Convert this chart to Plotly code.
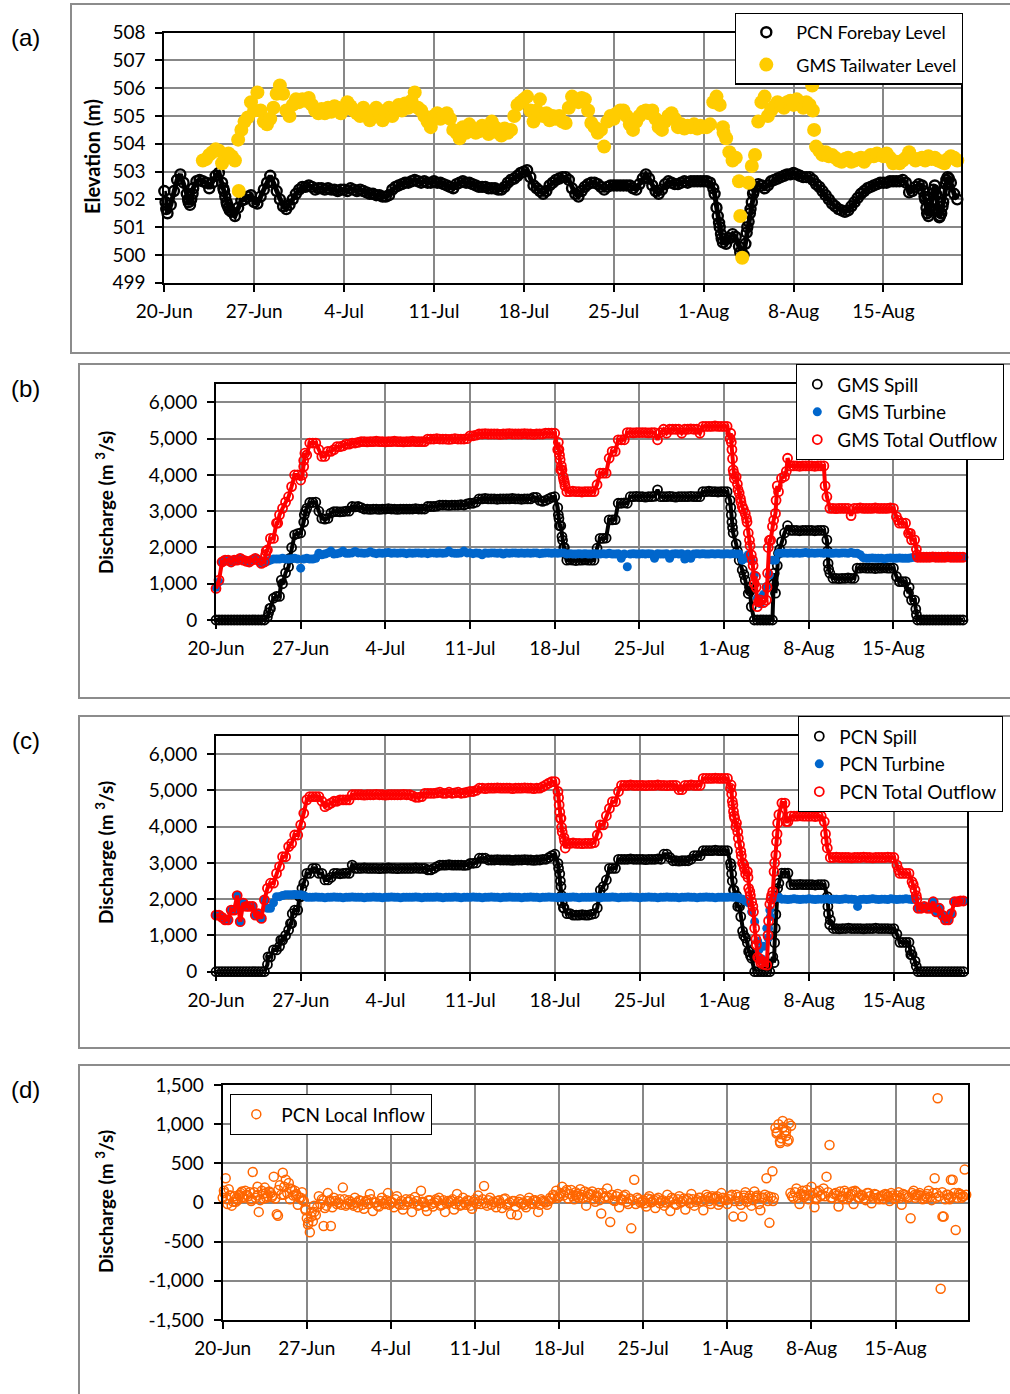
import pandas as pd
import plotly.graph_objects as go

# ---------------- DATA ----------------
START = pd.Timestamp("2013-06-20")
STEP_HOURS = 6          # main sampling interval of the value lists below
SPAN_DAYS = 62

# (a) PCN forebay level (m), one row per day, 4 readings per day from 20-Jun
PCN_FOREBAY = [
    502.3, 501.5, 501.8, 502.3,   502.7, 502.9, 502.6, 502.2,   501.8, 502.4, 502.65, 502.7,
    502.65, 502.6, 502.4, 502.6,  502.85, 502.95, 502.6, 502.1, 501.7, 501.55, 501.4, 501.7,
    501.95, 502.0, 502.1, 502.15, 501.9, 501.85, 502.1, 502.35, 502.6, 502.85, 502.6, 502.3,
    502.0, 501.75, 501.65, 501.8, 502.0, 502.2, 502.35, 502.45, 502.45, 502.5, 502.45, 502.35,
    502.4, 502.4, 502.35, 502.4,  502.35, 502.35, 502.3, 502.35, 502.35, 502.3, 502.4, 502.35,
    502.3, 502.35, 502.3, 502.25, 502.2, 502.2, 502.15, 502.15, 502.1, 502.1, 502.15, 502.35,
    502.45, 502.5, 502.55, 502.6, 502.6, 502.65, 502.7, 502.65, 502.6, 502.65, 502.6, 502.6,
    502.65, 502.6, 502.6, 502.55, 502.5, 502.45, 502.4, 502.55, 502.6, 502.65, 502.6, 502.6,
    502.55, 502.5, 502.45, 502.45, 502.45, 502.4, 502.4, 502.4, 502.35, 502.35, 502.45, 502.6,
    502.7, 502.75, 502.85, 502.95, 503.0, 503.05, 502.8, 502.5, 502.4, 502.3, 502.2, 502.3,
    502.5, 502.6, 502.7, 502.75,  502.8, 502.8, 502.7, 502.4,   502.2, 502.1, 502.3, 502.45,
    502.55, 502.6, 502.6, 502.55, 502.45, 502.35, 502.45, 502.5, 502.5, 502.5, 502.5, 502.5,
    502.5, 502.5, 502.4, 502.35,  502.55, 502.75, 502.9, 502.75, 502.5, 502.3, 502.2, 502.35,
    502.55, 502.65, 502.6, 502.55, 502.55, 502.6, 502.65, 502.6, 502.65, 502.65, 502.65, 502.65,
    502.65, 502.65, 502.6, 502.4, 501.7, 501.0, 500.45, 500.4,  500.6, 500.75, 500.65, 500.3,
    499.95, 500.4, 501.2, 501.9,  502.45, 502.55, 502.5, 502.4, 502.5, 502.65, 502.7, 502.75,
    502.8, 502.85, 502.9, 502.9,  502.95, 502.9, 502.85, 502.8, 502.8, 502.8, 502.7, 502.55,
    502.45, 502.3, 502.15, 502.0, 501.85, 501.75, 501.65, 501.6, 501.55, 501.6, 501.75, 501.9,
    502.05, 502.2, 502.3, 502.4,  502.45, 502.5, 502.55, 502.6,  502.6, 502.6, 502.65, 502.65,
    502.65, 502.65, 502.7, 502.6, 502.25, 502.3, 502.45, 502.55, 502.5, 502.0, 501.4, 501.9,
    502.5, 501.6, 501.5, 502.3,   502.8, 502.6, 502.2, 502.0,
]
PCN_FOREBAY_EXTRA = [
    (0.1, 501.9), (0.15, 501.65), (1.85, 502.0), (1.9, 501.9), (2.1, 502.0), (2.2, 502.2),
    (4.6, 502.4), (4.65, 502.3), (4.85, 501.9), (4.9, 501.8), (5.1, 501.6),
    (42.85, 502.2), (43.1, 501.4), (43.2, 501.15), (43.35, 500.75), (43.4, 500.6),
    (44.85, 500.1), (45.1, 500.0), (45.35, 500.8), (45.4, 501.0), (45.6, 501.5),
    (45.65, 501.65), (45.85, 502.2), (45.9, 502.3),
    (59.1, 502.3), (59.2, 502.1), (59.35, 501.7), (59.4, 501.5), (59.6, 501.6), (59.65, 501.7),
    (59.85, 502.2), (59.9, 502.35), (60.1, 502.2), (60.2, 501.9), (60.35, 501.35), (60.4, 501.4),
    (60.6, 501.75), (60.65, 501.9), (60.85, 502.55), (60.9, 502.7), (61.1, 502.75),
]

# (a) GMS tailwater level (m), 4 readings per day starting 23-Jun
GMS_TAILWATER_START_DAY = 3.0
GMS_TAILWATER = [
    503.4, 503.45, 503.6, 503.7,  503.8, 503.75, 503.3, 503.5,  503.65, 503.55, 503.4, 504.15,
    504.5, 504.8, 504.95, 505.5,  505.2, 505.85, 505.2, 504.8,  504.7, 504.9, 505.3, 505.8,
    506.1, 505.8, 505.2, 505.0,   505.4, 505.6, 505.5, 505.6,   505.55, 505.65, 505.4, 505.2,
    505.1, 505.25, 505.1, 505.3,  505.15, 505.35, 505.3, 505.1, 505.25, 505.5, 505.35, 505.2,
    505.1, 505.0, 505.3, 505.1,   504.85, 505.0, 505.3, 505.1,  504.85, 505.2, 505.3, 505.0,
    505.2, 505.4, 505.2, 505.45,  505.3, 505.55, 505.85, 505.3, 505.2, 505.0, 504.8, 504.6,
    505.0, 505.1, 504.9, 505.0,   505.1, 504.9, 504.5, 504.4,   504.2, 504.6, 504.4, 504.7,
    504.5, 504.4, 504.45, 504.65, 504.5, 504.35, 504.8, 504.6,  504.4, 504.3, 504.55, 504.4,
    504.5, 505.0, 505.4, 505.5,   505.6, 505.7, 505.2, 504.8,   505.2, 505.6, 505.0, 505.1,
    504.85, 505.0, 504.9, 505.0,  504.8, 504.75, 505.3, 505.7,  505.6, 505.5, 505.65, 505.6,
    505.2, 504.75, 504.6, 504.4,  504.5, 503.9, 504.8, 505.0,   504.9, 505.1, 505.2, 505.2,
    505.0, 504.7, 504.5, 504.8,   505.0, 505.15, 505.2, 505.1,  505.2, 504.9, 504.6, 504.5,
    504.8, 505.0, 505.1, 504.9,   504.6, 504.7, 504.55, 504.65, 504.6, 504.7, 504.55, 504.65,
    504.6, 504.6, 504.7, 505.5,   505.7, 505.4, 504.6, 504.2,   503.7, 503.4, 503.5, 502.65,
    499.9, None, 502.6, 503.2,    503.6, 504.8, 505.5, 505.7,   505.0, 505.2, 505.35, 505.5,
    505.4, 505.3, 505.5, 505.55,  505.4, 505.6, 505.5, 505.3,   505.5, 505.4, 505.2, 503.9,
    503.75, 503.6, 503.7, 503.55, 503.6, 503.5, 503.4, 503.35,  503.45, 503.5, 503.35, 503.4,
    503.45, 503.5, 503.35, 503.5, 503.6, 503.55, 503.65, 503.6, 503.55, 503.65, 503.5, 503.3,
    503.35, 503.3, 503.4, 503.5,  503.7, 503.5, 503.4, 503.45,  503.5, 503.4, 503.55, 503.45,
    503.5, 503.4, 503.35, 503.3,  503.45, 503.55, 503.5, 503.4,
]
GMS_TAILWATER_EXTRA = [(5.8, 502.3), (44.85, 501.4), (50.45, 506.1), (50.6, 504.5), (43.55, 504.4)]

# (b) GMS discharges (m3/s), 4 readings per day from 20-Jun
GMS_SPILL = [
    0, 0, 0, 0,  0, 0, 0, 0,  0, 0, 0, 0,  0, 0, 0, 0,
    0, 80, 320, 600,  650, 650, 1000, 1300,  1470, 2000, 2350, 2380,  2400, 2700, 3080, 3240,
    3240, 3250, 3000, 2800,  2780, 2800, 2950, 2990,  2990, 2980, 2990, 3000,  3000, 3130, 3120, 3130,
    3100, 3060, 3060, 3050,  3060, 3060, 3050, 3060,  3060, 3070, 3060, 3060,  3050, 3060, 3060, 3060,
    3060, 3060, 3070, 3060,  3060, 3060, 3130, 3130,  3130, 3140, 3170, 3170,  3170, 3160, 3170, 3170,
    3170, 3180, 3170, 3200,  3220, 3220, 3250, 3340,  3340, 3350, 3340, 3340,  3340, 3330, 3340, 3340,
    3340, 3340, 3350, 3340,  3340, 3330, 3340, 3340,  3340, 3380, 3380, 3300,  3270, 3300, 3340, 3380,
    3400, 3100, 2600, 2000,  1650, 1660, 1650, 1640,  1650, 1650, 1660, 1650,  1650, 1650, 1980, 2250,
    2250, 2260, 2760, 2760,  2770, 3220, 3220, 3230,  3220, 3400, 3400, 3410,  3400, 3400, 3390, 3400,
    3400, 3410, 3590, 3400,  3400, 3400, 3410, 3400,  3390, 3400, 3400, 3400,  3400, 3410, 3400, 3400,
    3400, 3540, 3540, 3550,  3540, 3540, 3530, 3540,  3540, 3540, 3300, 2400,  2100, 1650, 1380, 1100,
    730, 370, 0, 0,  0, 0, 0, 0,  0, 740, 1840, 2160,  2400, 2600, 2470, 2470,
    2470, 2460, 2470, 2470,  2470, 2470, 2460, 2470,  2470, 2470, 2210, 1290,  1150, 1150, 1140, 1150,
    1150, 1160, 1150, 1150,  1430, 1430, 1440, 1430,  1430, 1430, 1420, 1430,  1430, 1440, 1430, 1430,
    1430, 1200, 1060, 1060,  1060, 740, 550, 550,  0, 0, 0, 0,  0, 0, 0, 0,
    0, 0, 0, 0,  0, 0, 0, 0,
]
GMS_SPILL_EXTRA = [
    (4.35, 200), (4.45, 320), (5.4, 1100), (6.1, 1700), (7.3, 2900), (7.4, 3000),
    (28.3, 2900), (28.35, 2800), (28.4, 2600), (28.6, 2300), (28.65, 2200), (28.8, 2000), (28.85, 1840),
    (42.55, 3100), (42.6, 2900), (42.65, 2700), (42.7, 2550), (43.1, 1900), (43.65, 1250),
    (44.1, 900), (44.15, 800), (46.1, 1000), (46.15, 1290), (46.4, 1500), (46.6, 1950),
    (50.55, 1900), (50.6, 1560), (50.65, 1400), (57.3, 900), (57.85, 300), (57.9, 150),
]
GMS_TURBINE = [
    900, 1050, 1600, 1650,  1650, 1600, 1650, 1650,  1700, 1650, 1620, 1600,  1650, 1700, 1650, 1560,
    1600, 1620, 1650, 1680,  1680, 1680, 1700, 1680,  1680, 1690, 1700, 1680,  1430, 1680, 1700, 1680,
    1680, 1700, 1840, 1800,  1820, 1850, 1900, 1820,  1830, 1850, 1900, 1840,  1840, 1850, 1890, 1850,
    1850, 1840, 1850, 1880,  1850, 1830, 1850, 1840,  1850, 1860, 1840, 1850,  1840, 1850, 1850, 1830,
    1850, 1840, 1850, 1850,  1840, 1850, 1830, 1850,  1850, 1840, 1850, 1840,  1850, 1900, 1850, 1840,
    1840, 1850, 1900, 1850,  1850, 1830, 1850, 1840,  1800, 1850, 1840, 1850,  1850, 1840, 1850, 1820,
    1850, 1840, 1850, 1850,  1840, 1850, 1840, 1850,  1840, 1850, 1850, 1830,  1840, 1850, 1850, 1840,
    1850, 1840, 1850, 1850,  1820, 1830, 1820, 1820,  1830, 1820, 1830, 1820,  1820, 1830, 1820, 1820,
    1830, 1820, 1840, 1820,  1820, 1830, 1700, 1820,  1470, 1820, 1830, 1820,  1820, 1830, 1820, 1830,
    1820, 1700, 1830, 1820,  1820, 1830, 1700, 1820,  1830, 1820, 1830, 1680,  1820, 1700, 1820, 1830,
    1820, 1830, 1820, 1820,  1830, 1820, 1830, 1820,  1820, 1830, 1820, 1830,  1820, 1820, 1650, 1700,
    1800, 1650, 1240, 600,  450, 700, 920, 1240,  1650, 1650, 1840, 1840,  1850, 1840, 1850, 1840,
    1850, 1840, 1850, 1860,  1840, 1850, 1840, 1850,  1850, 1840, 1850, 1840,  1840, 1850, 1840, 1850,
    1850, 1840, 1860, 1840,  1840, 1800, 1720, 1700,  1700, 1710, 1700, 1700,  1700, 1690, 1700, 1710,
    1700, 1700, 1710, 1700,  1700, 1700, 1720, 1730,  1730, 1730, 1730, 1730,  1730, 1730, 1730, 1730,
    1730, 1730, 1730, 1730,  1730, 1730, 1730, 1730,
]
GMS_TOTAL = [
    870, 1100, 1600, 1650,  1650, 1600, 1650, 1650,  1700, 1650, 1620, 1600,  1650, 1700, 1650, 1560,
    1600, 1930, 2250, 2250,  2670, 2900, 3080, 3250,  3400, 3680, 4000, 4000,  3860, 4230, 4550, 4880,
    4880, 4880, 4700, 4510,  4510, 4650, 4650, 4700,  4780, 4780, 4800, 4850,  4850, 4880, 4880, 4900,
    4920, 4920, 4910, 4920,  4920, 4930, 4920, 4920,  4910, 4920, 4920, 4930,  4920, 4920, 4910, 4920,
    4920, 4930, 4920, 4920,  4920, 4920, 4990, 4990,  4990, 5000, 4990, 4990,  4990, 4980, 4990, 5000,
    4990, 4990, 4990, 5000,  5080, 5080, 5100, 5130,  5130, 5140, 5130, 5130,  5130, 5130, 5120, 5130,
    5130, 5140, 5130, 5130,  5130, 5130, 5140, 5130,  5130, 5120, 5130, 5130,  5130, 5150, 5150, 5150,
    5150, 4700, 4140, 3860,  3540, 3540, 3550, 3540,  3540, 3530, 3540, 3540,  3540, 3540, 3730, 4050,
    4050, 4050, 4460, 4650,  4650, 4970, 4970, 4970,  5170, 5170, 5160, 5170,  5170, 5170, 5170, 5160,
    5170, 5170, 4970, 5170,  5260, 5150, 5260, 5260,  5260, 5260, 5150, 5260,  5260, 5270, 5260, 5260,
    5150, 5340, 5340, 5340,  5340, 5350, 5340, 5340,  5340, 5340, 5000, 4140,  3950, 3500, 3130, 2940,
    2400, 1800, 1000, 370,  550, 480, 550, 2200,  2580, 2940, 3540, 3910,  3960, 4460, 4250, 4250,
    4250, 4240, 4250, 4250,  4250, 4250, 4240, 4250,  4250, 4250, 3400, 3080,  3080, 3070, 3080, 3080,
    3080, 3080, 2880, 3080,  3080, 3090, 3080, 3080,  3080, 3080, 3090, 3080,  3080, 3080, 3080, 3090,
    3080, 2850, 2670, 2670,  2670, 2390, 2210, 2210,  1730, 1730, 1730, 1730,  1730, 1740, 1730, 1730,
    1730, 1730, 1740, 1730,  1730, 1730, 1730, 1730,
]
GMS_TOTAL_EXTRA = [
    (4.1, 1800), (4.15, 1900), (5.1, 2670), (7.15, 4000), (7.25, 4400), (7.35, 4600),
    (28.3, 4900), (28.35, 4700), (28.4, 4550), (28.45, 4420), (28.55, 4250), (28.6, 4140),
    (28.7, 3950), (28.8, 3800), (28.85, 3700), (42.55, 5150), (42.6, 4900), (42.65, 4700),
    (42.7, 4450), (42.8, 4050), (42.85, 3900), (43.1, 3750), (43.15, 3600), (43.35, 3350),
    (43.4, 3250), (43.6, 3050), (43.85, 2800), (43.9, 2700), (44.1, 2200), (44.15, 2050),
    (44.35, 1650), (44.4, 1500), (44.6, 1200), (44.65, 900), (44.85, 500), (45.55, 900),
    (45.6, 1290), (45.65, 2000), (45.85, 2200), (46.1, 2750), (46.3, 3300), (46.4, 3700),
    (47.15, 4100), (50.35, 3700), (56.4, 2750), (57.4, 2390), (57.9, 1950), (57.95, 1800),
]

# (c) PCN discharges (m3/s), 4 readings per day from 20-Jun
PCN_SPILL = [
    0, 0, 0, 0,  0, 0, 0, 0,  0, 0, 0, 0,  0, 0, 0, 0,
    0, 200, 410, 600,  600, 700, 870, 1000,  1150, 1330, 1700, 1700,  2070, 2440, 2710, 2710,
    2850, 2850, 2710, 2710,  2530, 2530, 2600, 2710,  2710, 2700, 2710, 2720,  2710, 2940, 2850, 2850,
    2850, 2860, 2850, 2850,  2850, 2850, 2840, 2850,  2850, 2860, 2850, 2850,  2840, 2850, 2850, 2850,
    2850, 2850, 2860, 2850,  2850, 2850, 2810, 2810,  2850, 2900, 2940, 2940,  2940, 2950, 2940, 2940,
    2940, 2940, 2930, 2940,  2990, 2990, 3000, 3130,  3130, 3130, 3080, 3080,  3080, 3090, 3080, 3080,
    3080, 3080, 3070, 3080,  3080, 3080, 3090, 3080,  3080, 3070, 3080, 3080,  3100, 3100, 3150, 3200,
    3240, 2990, 2350, 1760,  1600, 1600, 1560, 1560,  1560, 1570, 1560, 1560,  1580, 1600, 1760, 2250,
    2350, 2530, 2850, 2850,  2850, 3100, 3100, 3100,  3100, 3110, 3100, 3100,  3100, 3100, 3090, 3100,
    3100, 3100, 3110, 3100,  3240, 3240, 3150, 3060,  3060, 3050, 3060, 3060,  3060, 3100, 3200, 3200,
    3200, 3340, 3340, 3340,  3340, 3350, 3340, 3340,  3340, 3340, 2990, 2250,  2100, 1800, 1120, 930,
    560, 370, 0, 0,  0, 0, 0, 0,  410, 1580, 2440, 2720,  2720, 2720, 2400, 2400,
    2400, 2410, 2400, 2400,  2400, 2400, 2390, 2400,  2400, 2400, 2070, 1430,  1190, 1190, 1180, 1190,
    1190, 1200, 1190, 1190,  1190, 1190, 1180, 1190,  1190, 1190, 1200, 1190,  1190, 1190, 1190, 1180,
    1190, 1040, 810, 810,  810, 810, 470, 290,  0, 0, 0, 0,  0, 0, 0, 0,
    0, 0, 0, 0,  0, 0, 0, 0,
]
PCN_SPILL_EXTRA = [
    (4.3, 410), (5.35, 870), (6.15, 1330), (6.3, 1600), (6.9, 2070), (7.1, 2300),
    (28.3, 2850), (28.4, 2700), (28.45, 2500), (28.55, 2100), (28.6, 1900), (28.7, 1760),
    (42.55, 2900), (42.6, 2700), (42.65, 2500), (42.8, 2250), (43.1, 1800), (43.35, 1520),
    (43.6, 1000), (43.9, 800), (44.1, 560), (44.15, 450), (46.1, 250), (46.15, 800), (46.2, 1200),
    (46.35, 2070), (46.4, 2300), (50.55, 1800), (50.6, 1600), (50.7, 1300), (57.35, 600),
    (57.4, 470), (57.85, 150),
]
PCN_TURBINE = [
    1560, 1560, 1500, 1430,  1430, 1700, 1700, 2100,  1380, 1890, 1800, 1800,  1800, 1560, 1600, 1470,
    1980, 1750, 1750, 1900,  2070, 2070, 2100, 2120,  2120, 2120, 2130, 2120,  2120, 2100, 2050, 2050,
    2050, 2060, 2050, 2050,  2040, 2050, 2050, 2060,  2050, 2050, 2040, 2050,  2050, 2060, 2050, 2050,
    2050, 2040, 2050, 2050,  2060, 2050, 2050, 2040,  2050, 2050, 2060, 2050,  2050, 2040, 2050, 2050,
    2050, 2050, 2060, 2050,  2040, 2050, 2050, 2050,  2050, 2060, 2050, 2040,  2050, 2050, 2050, 2060,
    2050, 2040, 2050, 2050,  2050, 2060, 2050, 2050,  2040, 2050, 2050, 2060,  2050, 2050, 2040, 2050,
    2050, 2060, 2050, 2050,  2050, 2040, 2050, 2050,  2060, 2050, 2050, 2040,  2050, 2050, 2060, 2050,
    2050, 2040, 2050, 2050,  2050, 2050, 2060, 2050,  2040, 2050, 2050, 2050,  2050, 2060, 2050, 2040,
    2050, 2050, 2050, 2060,  2050, 2040, 2050, 2050,  2050, 2060, 2050, 2050,  2040, 2050, 2050, 2060,
    2050, 2050, 2040, 2050,  2050, 2060, 2050, 2050,  2050, 2040, 2050, 2050,  2060, 2050, 2050, 2040,
    2050, 2050, 2060, 2050,  2050, 2040, 2050, 2050,  2050, 2050, 2060, 2050,  2050, 2030, 2000, 1950,
    1900, 1650, 1380, 840,  330, 700, 1200, 1700,  2000, 2050, 2050, 2000,  2000, 1990, 2000, 2010,
    2000, 1990, 2000, 2000,  2010, 2000, 1990, 2000,  2000, 2000, 2010, 1990,  2000, 2000, 1990, 2000,
    2010, 2000, 2000, 1990,  1800, 1990, 2000, 1990,  2000, 2010, 2000, 1990,  2000, 2000, 1990, 2010,
    2000, 1990, 2000, 2000,  2010, 2000, 1990, 2000,  1750, 1750, 1800, 1750,  1750, 1930, 1650, 1750,
    1560, 1430, 1430, 1600,  1930, 1930, 1950, 1950,
]
PCN_TURBINE_EXTRA = [(45.6, 930), (45.65, 1200), (45.8, 1520), (44.85, 600), (45.1, 350)]
PCN_TOTAL = [
    1560, 1560, 1500, 1430,  1430, 1700, 1700, 2100,  1380, 1890, 1800, 1800,  1800, 1560, 1600, 1470,
    1980, 2300, 2440, 2440,  2710, 2900, 3170, 3170,  3450, 3540, 3770, 3770,  4050, 4370, 4740, 4830,
    4830, 4830, 4830, 4700,  4550, 4600, 4650, 4700,  4700, 4740, 4740, 4740,  4740, 4880, 4880, 4880,
    4880, 4870, 4880, 4880,  4880, 4890, 4880, 4880,  4870, 4880, 4880, 4880,  4880, 4880, 4890, 4880,
    4880, 4850, 4810, 4810,  4830, 4920, 4920, 4920,  4920, 4930, 4950, 4920,  4920, 4950, 4920, 4930,
    4950, 4920, 4930, 4950,  4970, 4970, 5000, 5060,  5060, 5050, 5060, 5060,  5060, 5070, 5060, 5060,
    5060, 5060, 5050, 5060,  5060, 5060, 5070, 5060,  5060, 5050, 5060, 5060,  5100, 5150, 5200, 5240,
    5240, 4970, 4230, 3700,  3540, 3540, 3550, 3540,  3540, 3530, 3540, 3540,  3540, 3560, 3770, 4050,
    4050, 4300, 4500, 4690,  4690, 4970, 5140, 5140,  5140, 5150, 5140, 5140,  5140, 5140, 5130, 5140,
    5140, 5140, 5150, 5140,  5140, 5130, 5140, 5140,  5140, 5020, 5020, 5140,  5140, 5150, 5140, 5140,
    5140, 5330, 5330, 5330,  5330, 5340, 5330, 5330,  5330, 5330, 5060, 4420,  4100, 3500, 3000, 2700,
    2300, 1930, 1200, 400,  250, 200, 180, 1860,  2210, 3220, 4330, 4650,  4650, 4140, 4290, 4290,
    4290, 4300, 4290, 4290,  4290, 4290, 4280, 4290,  4290, 4140, 3410, 3150,  3150, 3160, 3150, 3150,
    3150, 3150, 3140, 3150,  3150, 3150, 3160, 3150,  3150, 3140, 3150, 3150,  3150, 3150, 3160, 3150,
    3150, 2940, 2710, 2710,  2710, 2710, 2480, 2250,  1750, 1750, 1800, 1750,  1750, 1930, 1650, 1750,
    1560, 1430, 1430, 1600,  1930, 1930, 1950, 1950,
]
PCN_TOTAL_EXTRA = [
    (28.3, 4800), (28.35, 4600), (28.4, 4400), (28.45, 4230), (28.55, 3980), (28.6, 3850),
    (28.8, 3600), (28.85, 3410), (42.55, 5150), (42.6, 4900), (42.65, 4700), (42.7, 4600),
    (42.8, 4300), (42.85, 4230), (42.95, 4000), (43.1, 3860), (43.15, 3680), (43.35, 3320),
    (43.4, 3200), (43.6, 2950), (43.65, 2850), (43.9, 2760), (43.95, 2600), (44.1, 2210),
    (44.15, 2100), (44.35, 1800), (44.4, 1650), (44.6, 900), (44.65, 740), (44.85, 370),
    (45.05, 300), (45.6, 1000), (45.65, 1400), (45.85, 2000), (45.9, 2100), (46.1, 2760),
    (46.15, 3000), (46.3, 3590), (46.35, 3800), (46.4, 4100), (47.1, 4140), (50.35, 3800),
    (50.4, 3600), (56.4, 2800), (57.6, 2400), (57.85, 2100), (57.9, 2000),
]

# (d) PCN local inflow (m3/s), 4 readings per day from 20-Jun (00,06,12,18 h)
PCN_LOCAL_INFLOW = [
    60, 310, 170, -40,  80, 30, 120, 60,  100, 130, 390, 60,  -120, 150, 190, 80,
    120, 330, -150, 220,  380, 290, 250, 170,  150, -30, 60, 20,  -200, -380, -240, -160,
    80, 40, -70, 120,  -300, 60, -20, 40,  190, -40, 30, -20,  60, -60, 20, -80,
    30, 110, -110, 0,  -50, 60, -20, 120,  10, -60, 80, -30,  -90, 40, 10, -120,
    70, -40, 150, 0,  -110, 30, -50, 40,  60, -30, -120, 20,  20, -90, 110, -40,
    60, -30, 20, -80,  40, 90, -20, 210,  -40, 60, 10, -60,  30, -70, 50, -20,
    -150, 20, -160, 40,  0, -60, 60, -20,  30, -120, 40, 10,  -30, 60, 100, 150,
    80, 200, 130, 50,  160, 40, 110, 170,  60, -40, 100, 140,  10, 120, -140, 60,
    180, -250, 30, 80,  -60, 40, 100, -20,  -330, 290, 60, 0,  30, -50, 80, 10,
    -70, 60, 20, -40,  100, -110, 40, -30,  80, 20, -90, 50,  110, -40, 30, 60,
    -100, 100, 20, 80,  60, -30, 120, 40,  -20, 80, -180, 100,  20, -180, 130, 50,
    -40, 140, 90, -100,  60, 310, -260, 400,  950, 1000, 820, 900,  780, 120, 60, 180,
    -20, 150, 90, 40,  200, -60, 130, 80,  180, 330, 735, 60,  120, -50, 70, 150,
    40, 100, -20, 130,  60, 90, 30, 120,  -10, 110, 60, 80,  40, 100, 20, 90,
    50, 130, -30, 100,  60, -200, 150, 90,  120, 40, 80, 150,  30, 310, 1330, -1100,
    -180, 100, 40, 290,  -350, 120, 60, 420,
]
# (d) same series, readings in between (03,09,15,21 h)
PCN_LOCAL_INFLOW_MID = [
    120, 40, 90, 10,  50, 100, 70, 150,  80, 20, 130, 90,  30, 110, 60, 140,
    90, 50, 160, 100,  200, 120, 180, 90,  110, 60, 30, -80,  -250, -180, -120, -60,
    -20, 30, -40, 10,  -60, 20, 0, -30,  40, -20, 10, -40,  0, 30, -30, 10,
    -20, 40, 0, -40,  20, -10, 30, -30,  0, 40, -20, 20,  -30, 10, 40, -10,
    20, -30, 10, -50,  30, -20, 0, 20,  -40, 30, -10, 0,  40, -20, 20, -30,
    0, 30, -40, 10,  -20, 20, 40, -10,  30, -30, 0, 20,  -10, 40, -30, 0,
    20, -50, 10, -20,  -30, 20, -10, 30,  10, -30, 20, 0,  20, 50, 80, 60,
    120, 90, 160, 110,  80, 130, 60, 100,  140, 70, 110, 40,  90, 30, 120, 80,
    60, 100, 20, 110,  40, 80, 10, 50,  30, -20, 40, 10,  -10, 50, 0, 30,
    40, -10, 30, 0,  20, 60, -20, 40,  0, 50, 30, -10,  40, 10, 60, 20,
    30, 70, -20, 50,  80, 10, 60, 30,  40, 100, 20, 70,  -30, 60, 10, 90,
    30, 80, -20, 60,  100, 20, 70, 60,  900, 780, 960, 850,  1010, 80, 130, 60,
    110, 70, 160, 90,  120, 40, 150, 100,  80, 130, 60, 110,  90, 140, 40, 120,
    70, 110, 150, 60,  100, 50, 120, 80,  60, 100, 40, 90,  110, 70, 120, 50,
    90, 60, 110, 80,  70, 120, 60, 100,  90, 50, 110, 70,  120, 60, 80, 130,
    40, 100, 70, 120,  60, 110, 80, 100,
]
PCN_LOCAL_INFLOW_MID_START_DAY = 0.125
PCN_LOCAL_INFLOW_EXTRA = [
    (0.1, 150), (0.4, -20), (0.6, 90), (1.1, 10), (1.4, 80), (1.6, 140), (2.4, 40), (2.9, 200),
    (3.4, 50), (3.6, 120), (4.1, 70), (4.6, -170), (5.1, 100), (5.6, 40), (6.1, 90), (6.6, 130),
    (6.9, -100), (7.1, -280), (7.4, -120), (7.6, -40), (8.4, -300), (8.9, 30),
    (29.4, 90), (29.6, 60), (30.4, 120), (31.1, 70), (33.2, 30), (35.6, 40),
    (40.6, 60), (41.4, 20), (43.4, 90), (44.4, 60), (45.4, 80), (45.8, 20),
    (46.1, 880), (46.4, 760), (46.6, 1040), (46.9, 920), (47.1, 800), (47.3, 980),
    (48.4, 100), (49.4, 60), (51.6, 80), (52.4, 140), (55.4, 80), (57.6, 100), (58.6, 60),
    (59.4, 120), (59.9, -180), (60.4, 60), (60.6, 290), (61.4, 100), (61.6, 80),
]
Y_TICKS_D = [-1500, -1000, -500, 0, 500, 1000, 1500]
Y_TICKTEXT_D = ["-1,500", "-1,000", "-500", "0", "500", "1,000", "1,500"]

# ---------------- helpers ----------------
W, H = 1010, 1394
FONT = "Lato"


def points(vals, start_day=0.0):
    return [(start_day * 24 + i * STEP_HOURS, v) for i, v in enumerate(vals) if v is not None]


def series(vals, extra=(), start_day=0.0, more=()):
    pts = points(vals, start_day)
    for mv, ms in more:
        pts += points(mv, ms)
    pts += [(d * 24, v) for d, v in extra]
    pts.sort()
    xs = [(START + pd.Timedelta(hours=h)).strftime("%Y-%m-%d %H:%M") for h, _ in pts]
    ys = [v for _, v in pts]
    return xs, ys


def px(x):
    return x / W


def py(y):
    return 1 - y / H


fig = go.Figure()


def add(vals, extra, name, xa, ya, legend, symbol, color, size, lw=0, start_day=0.0,
        more=(), band=0):
    xs, ys = series(vals, extra, start_day, more)
    if band:
        # the hourly record is so dense that consecutive rings merge into a solid band;
        # a thin trace through the same readings fills the ring holes the same way
        fig.add_trace(go.Scatter(
            x=xs, y=ys, mode="lines", xaxis=xa, yaxis=ya, legend=legend, legendgroup=name,
            showlegend=False, line=dict(color=color, width=band), hoverinfo="skip",
        ))
    marker = dict(symbol=symbol, size=size, color=color)
    if "open" in symbol:
        marker["line"] = dict(width=lw, color=color)
    fig.add_trace(go.Scatter(
        x=xs, y=ys, mode="markers", name=name, xaxis=xa, yaxis=ya,
        legend=legend, legendgroup=name, marker=marker, cliponaxis=False,
        hoverinfo="skip",
    ))


# panel (a)
add(PCN_FOREBAY, PCN_FOREBAY_EXTRA, "PCN Forebay Level", "x", "y", "legend",
    "circle-open", "black", 10, 2.4, band=5)
add(GMS_TAILWATER, GMS_TAILWATER_EXTRA, "GMS Tailwater Level", "x", "y", "legend",
    "circle", "#FFCC00", 14, start_day=GMS_TAILWATER_START_DAY)
# panel (b)
add(GMS_SPILL, GMS_SPILL_EXTRA, "GMS Spill", "x2", "y2", "legend2", "circle-open", "black", 9, 1.8, band=4)
add(GMS_TURBINE, [], "GMS Turbine", "x2", "y2", "legend2", "circle", "#0066CC", 9)
add(GMS_TOTAL, GMS_TOTAL_EXTRA, "GMS Total Outflow", "x2", "y2", "legend2", "circle-open", "#FF0000", 9, 1.8, band=4)
# panel (c)
add(PCN_SPILL, PCN_SPILL_EXTRA, "PCN Spill", "x3", "y3", "legend3", "circle-open", "black", 9, 1.8, band=4)
add(PCN_TURBINE, PCN_TURBINE_EXTRA, "PCN Turbine", "x3", "y3", "legend3", "circle", "#0066CC", 9)
add(PCN_TOTAL, PCN_TOTAL_EXTRA, "PCN Total Outflow", "x3", "y3", "legend3", "circle-open", "#FF0000", 9, 1.8, band=4)
# panel (d)
add(PCN_LOCAL_INFLOW, PCN_LOCAL_INFLOW_EXTRA, "PCN Local Inflow", "x4", "y4", "legend4",
    "circle-open", "#FF6600", 9, 1.5,
    more=[(PCN_LOCAL_INFLOW_MID, PCN_LOCAL_INFLOW_MID_START_DAY)])

x_range = [START.strftime("%Y-%m-%d"), (START + pd.Timedelta(days=SPAN_DAYS)).strftime("%Y-%m-%d")]
tickfont = dict(family=FONT, size=19, color="black")


def xcfg(left, right, anchor):
    return dict(
        domain=[px(left), px(right)], anchor=anchor, type="date", range=x_range,
        tick0=START.strftime("%Y-%m-%d"), dtick=7 * 86400000, tickformat="%-d-%b",
        ticks="outside", ticklen=7, tickwidth=2, tickcolor="black",
        showline=True, linecolor="black", linewidth=2, mirror=True,
        showgrid=True, gridcolor="#878787", gridwidth=1.5, zeroline=False,
        tickfont=tickfont, ticklabelstandoff=3, fixedrange=True, automargin=False,
    )


def ycfg(top, bottom, anchor, rng, dtick, **kw):
    d = dict(
        domain=[py(bottom), py(top)], anchor=anchor, range=rng, dtick=dtick,
        ticks="outside", ticklen=7, tickwidth=2, tickcolor="black",
        showline=True, linecolor="black", linewidth=2, mirror=True,
        showgrid=True, gridcolor="#878787", gridwidth=1.5, zeroline=False,
        tickfont=tickfont, ticklabelstandoff=6, fixedrange=True, automargin=False,
    )
    d.update(kw)
    return d


def legend_cfg(x, y, size, gap, itemwidth):
    return dict(
        x=px(x), y=py(y), xanchor="left", yanchor="top", bgcolor="white",
        bordercolor="black", borderwidth=1.3, font=dict(family=FONT, size=size, color="black"),
        traceorder="grouped", tracegroupgap=gap, itemwidth=itemwidth, itemclick=False,
    )


fig.update_layout(
    width=W, height=H, margin=dict(l=0, r=0, t=0, b=0, pad=0, autoexpand=False),
    paper_bgcolor="white", plot_bgcolor="white", showlegend=True,
    xaxis=xcfg(164.3, 960.5, "y"),
    yaxis=ycfg(32.7, 282.7, "x", [499, 508], 1),
    xaxis2=xcfg(216, 966, "y2"),
    yaxis2=ycfg(384.3, 620, "x2", [0, 6500], 1000, tickformat=",d"),
    xaxis3=xcfg(216, 966.5, "y3"),
    yaxis3=ycfg(736, 971.7, "x3", [0, 6500], 1000, tickformat=",d"),
    xaxis4=xcfg(222.7, 967.7, "y4"),
    yaxis4=ycfg(1085, 1320, "x4", [-1500, 1500], 500, tickvals=Y_TICKS_D, ticktext=Y_TICKTEXT_D),
    legend=legend_cfg(735, 12.7, 18, 6, 50),
    legend2=legend_cfg(796, 364, 19, 0, 30),
    legend3=legend_cfg(798, 716, 19, 0, 30),
    legend4=legend_cfg(230, 1094, 19, 0, 40),
)

# chart-area frames (grey boxes around each panel)
frames = [(71, 4, 1015, 353), (79, 364, 1015, 698), (79, 716, 1015, 1048), (79, 1065, 1015, 1400)]
for x0, y0, x1, y1 in frames:
    fig.add_shape(type="rect", xref="paper", yref="paper", x0=px(x0), x1=px(x1), y0=py(y1), y1=py(y0),
                  line=dict(color="#8C8C8C", width=2), fillcolor="rgba(0,0,0,0)", layer="below")

# panel letters and axis titles
letters = [("(a)", 25.5, 37.5), ("(b)", 25.5, 388.5), ("(c)", 25.5, 740.5), ("(d)", 25.5, 1089.5)]
for t, x, y in letters:
    fig.add_annotation(text=t, x=px(x), y=py(y), xref="paper", yref="paper", showarrow=False,
                       xanchor="center", yanchor="middle",
                       font=dict(family="Liberation Sans", size=24, color="black"))
titles = [("<b>Elevation (m)</b>", 92, 157, 20),
          ("<b>Discharge (m <sup>3</sup>/s)</b>", 104, 503, 19),
          ("<b>Discharge (m <sup>3</sup>/s)</b>", 104, 853, 19),
          ("<b>Discharge (m <sup>3</sup>/s)</b>", 104, 1202, 19)]
for t, x, y, s in titles:
    fig.add_annotation(text=t, x=px(x), y=py(y), xref="paper", yref="paper", showarrow=False,
                       xanchor="center", yanchor="middle",
                       textangle=-90, font=dict(family=FONT, size=s, color="black"))

fig.write_html("out.html", config={"displayModeBar": False},
               post_script="document.body.style.margin='0';document.body.style.overflow='hidden';")
